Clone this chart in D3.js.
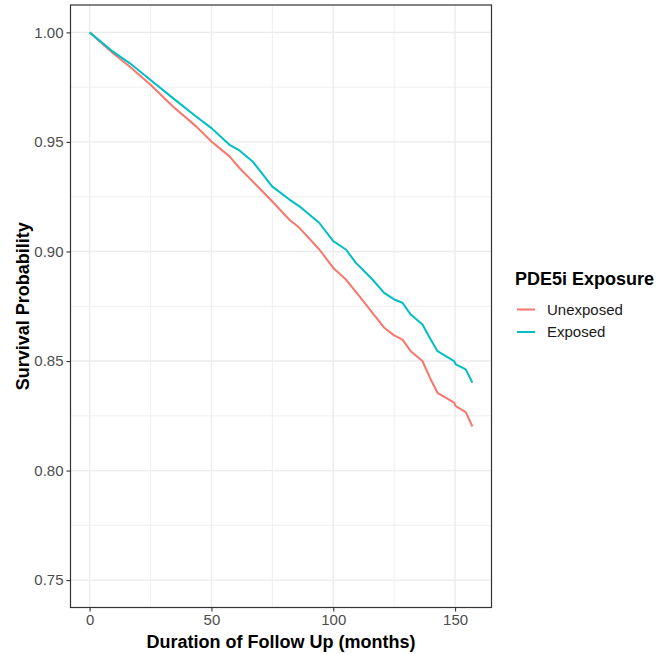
<!DOCTYPE html>
<html>
<head>
<meta charset="utf-8">
<script src="https://cdn.jsdelivr.net/npm/d3@7"></script>
<style>
  body { margin: 0; background: #fff; }
  svg { display: block; font-family: "Liberation Sans", Arial, Helvetica, sans-serif; }
</style>
</head>
<body>
<svg width="659" height="654"></svg>
<script>

// survival curves (months, probability)
let groups = ["Unexposed", "Exposed"];
let groupColors = ["#F8766D", "#00BFC4"];

let unexposedTime = [0, 9.6, 16.4, 25, 34.2, 43.7, 50, 57.4, 61.5, 65.6, 74.9, 82, 86.1, 94.3, 100, 105.2, 110.7, 116.1, 120.9, 125, 128.4, 131.8, 136.6, 140, 142.8, 149.6, 150.3, 154.4, 157.1];
let unexposedSurv = [1.0, 0.9905, 0.9844, 0.9761, 0.9662, 0.9571, 0.9502, 0.9434, 0.9381, 0.9335, 0.9229, 0.9145, 0.9108, 0.9009, 0.8925, 0.8872, 0.8796, 0.872, 0.8652, 0.8617, 0.8598, 0.8545, 0.85, 0.8416, 0.8355, 0.831, 0.8294, 0.8267, 0.8201];

let exposedTime = [0, 9.6, 16.4, 25, 34.2, 43.7, 50, 57.4, 61.5, 66.9, 74.9, 82, 86.1, 94.3, 100, 105.2, 109.3, 116.1, 120.9, 125, 128.4, 131.8, 136.6, 140, 142.8, 149.6, 150.3, 154.4, 157.1];
let exposedSurv = [1.0, 0.9912, 0.986, 0.9783, 0.970, 0.9616, 0.9563, 0.9487, 0.9461, 0.9411, 0.9297, 0.9237, 0.9206, 0.913, 0.9047, 0.9009, 0.8948, 0.8872, 0.8811, 0.8781, 0.8766, 0.8712, 0.8667, 0.8598, 0.8545, 0.85, 0.8485, 0.8462, 0.8401];

let xTicks = [0, 50, 100, 150];
let xMinor = [25, 75, 125];
let yTicks = [0.75, 0.8, 0.85, 0.9, 0.95, 1.0];
let yMinor = [0.775, 0.825, 0.875, 0.925, 0.975];

let series = [
  { name: groups[0], color: groupColors[0], pts: unexposedTime.map((t, i) => [t, unexposedSurv[i]]) },
  { name: groups[1], color: groupColors[1], pts: exposedTime.map((t, i) => [t, exposedSurv[i]]) }
];

let svg = d3.select("svg");

// panel box
let pLeft = 70.5, pRight = 491.5, pTop = 5, pBottom = 607.5;

// ggplot style 5% expansion on both scales
let xMax = 157.1;
let xPad = xMax * 0.05;
let x = d3.scaleLinear().domain([-xPad, xMax + xPad]).range([pLeft, pRight]);
let y = d3.scaleLinear().domain([0.7375, 1.0125]).range([pBottom, pTop]);

//------------------------------------------------------------------------------
// grid

let grid = svg.append("g").attr("stroke", "#EBEBEB");

grid.selectAll(".ymin").data(yMinor).enter().append("line")
  .attr("x1", pLeft).attr("x2", pRight)
  .attr("y1", d => y(d)).attr("y2", d => y(d))
  .attr("stroke-width", 0.8);

grid.selectAll(".xmin").data(xMinor).enter().append("line")
  .attr("y1", pTop).attr("y2", pBottom)
  .attr("x1", d => x(d)).attr("x2", d => x(d))
  .attr("stroke-width", 0.8);

grid.selectAll(".ymaj").data(yTicks).enter().append("line")
  .attr("x1", pLeft).attr("x2", pRight)
  .attr("y1", d => y(d)).attr("y2", d => y(d))
  .attr("stroke-width", 1.3);

grid.selectAll(".xmaj").data(xTicks).enter().append("line")
  .attr("y1", pTop).attr("y2", pBottom)
  .attr("x1", d => x(d)).attr("x2", d => x(d))
  .attr("stroke-width", 1.3);

//------------------------------------------------------------------------------
// curves

let line = d3.line()
  .x(d => x(d[0]))
  .y(d => y(d[1]));

svg.append("g")
  .selectAll("path")
  .data(series)
  .enter()
  .append("path")
  .attr("d", d => line(d.pts))
  .attr("fill", "none")
  .attr("stroke", d => d.color)
  .attr("stroke-width", 2)
  .attr("stroke-linejoin", "round");

// border
svg.append("rect")
  .attr("x", pLeft).attr("y", pTop)
  .attr("width", pRight - pLeft).attr("height", pBottom - pTop)
  .attr("fill", "none")
  .attr("stroke", "#333333")
  .attr("stroke-width", 1.2);

//------------------------------------------------------------------------------
// axes

let xAxis = svg.append("g")
  .attr("transform", `translate(0,${pBottom})`)
  .call(d3.axisBottom(x).tickValues(xTicks).tickSize(4).tickPadding(3).tickFormat(d3.format("d")));

let yAxis = svg.append("g")
  .attr("transform", `translate(${pLeft},0)`)
  .call(d3.axisLeft(y).tickValues(yTicks).tickSize(4).tickPadding(3).tickFormat(d3.format(".2f")));

[xAxis, yAxis].forEach(a => {
  a.select(".domain").remove();
  a.selectAll(".tick line").attr("stroke", "#333333").attr("stroke-width", 1.1);
  a.selectAll(".tick text")
    .attr("fill", "#4D4D4D")
    .style("font-size", "15px")
    .style("font-family", "'Liberation Sans', Arial, sans-serif");
});

svg.append("text")
  .attr("x", (pLeft + pRight) / 2)
  .attr("y", 648)
  .attr("text-anchor", "middle")
  .style("font-size", "18px")
  .style("font-weight", "bold")
  .text("Duration of Follow Up (months)");

svg.append("text")
  .attr("transform", `translate(29,${(pTop + pBottom) / 2}) rotate(-90)`)
  .attr("text-anchor", "middle")
  .style("font-size", "18px")
  .style("font-weight", "bold")
  .text("Survival Probability");

//------------------------------------------------------------------------------
// legend

let legend = svg.append("g").attr("transform", "translate(515,0)");

legend.append("text")
  .attr("x", 0)
  .attr("y", 285)
  .style("font-size", "18px")
  .style("font-weight", "bold")
  .text("PDE5i Exposure");

let item = legend.selectAll(".item")
  .data(series)
  .enter()
  .append("g")
  .attr("transform", (d, i) => `translate(0,${309.5 + i * 22.5})`);

item.append("line")
  .attr("x1", 2).attr("x2", 20)
  .attr("stroke", d => d.color)
  .attr("stroke-width", 2);

item.append("text")
  .attr("x", 32)
  .attr("dy", "0.35em")
  .attr("fill", "#1a1a1a")
  .style("font-size", "15px")
  .text(d => d.name);

</script>
</body>
</html>
